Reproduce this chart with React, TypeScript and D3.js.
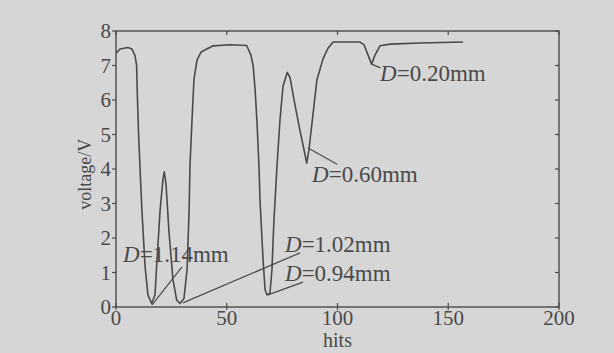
import React from "react";
import * as d3 from "d3";

const hits = [0.2, 1.8, 5.4, 7.2, 8.6, 9.3, 9.7, 10.2, 10.8, 11.7, 13.1, 14.4, 16.1, 17.6, 18.5, 19.9, 21.2, 21.8, 22.6, 23.9, 25.7, 27.4, 28.9, 30.7, 32.1, 33.0, 33.4, 34.3, 35.2, 36.6, 38.4, 43.8, 51.5, 59.0, 60.9, 61.9, 62.8, 63.7, 64.6, 65.0, 66.4, 67.3, 68.2, 69.5, 70.4, 71.3, 72.7, 74.0, 75.4, 77.3, 78.6, 80.8, 83.1, 84.9, 86.1, 87.1, 88.9, 90.7, 93.5, 95.7, 98.0, 103.4, 110.2, 112.0, 113.8, 115.4, 116.9, 119.2, 123.7, 137.2, 156.7];
const voltage = [7.36, 7.48, 7.52, 7.48, 7.28, 7.0, 6.0, 5.0, 4.1, 2.8, 1.2, 0.35, 0.1, 0.35, 1.35, 2.8, 3.7, 3.92, 3.55, 2.2, 0.8, 0.2, 0.1, 0.25, 1.1, 2.8, 4.1, 5.4, 6.6, 7.16, 7.39, 7.57, 7.6, 7.58, 7.3, 7.0, 6.3, 5.3, 4.0, 3.1, 1.36, 0.5, 0.35, 0.4, 1.07, 2.5, 4.1, 5.4, 6.4, 6.8, 6.64, 5.86, 5.1, 4.55, 4.17, 4.55, 5.57, 6.58, 7.2, 7.5, 7.68, 7.68, 7.68, 7.6, 7.3, 7.04, 7.3, 7.57, 7.62, 7.65, 7.68];

const xTicks = [0, 50, 100, 150, 200];
const yTicks = [0, 1, 2, 3, 4, 5, 6, 7, 8];

const annoLabels = ["0.20mm", "0.60mm", "1.14mm", "1.02mm", "0.94mm"];
const annoTextX = [119.2, 88.5, 3.2, 76.3, 76.3];
const annoTextY = [6.55, 3.62, 1.3, 1.59, 0.75];
const leadX1 = [115.4, 86.7, 16.3, 30.2, 68.6];
const leadY1 = [7.04, 4.61, 0.06, 0.12, 0.35];
const leadX2 = [119.4, 99.8, 29.8, 83.1, 84.4];
const leadY2 = [6.93, 4.14, 1.16, 1.57, 0.72];

const W = 614;
const H = 353;
const ink = "#4a4a4a";
const font = "'Liberation Serif', 'Times New Roman', serif";

export default function App() {
  const x = d3.scaleLinear().domain([0, 200]).range([116, 559]);
  const y = d3.scaleLinear().domain([0, 8]).range([307, 31]);
  const pts: [number, number][] = hits.map((h, i) => [h, voltage[i]]);
  const line = d3
    .line<[number, number]>()
    .x((d) => x(d[0]))
    .y((d) => y(d[1]))
    .curve(d3.curveLinear);
  const [x0, x1] = x.range();
  const [y0, y1] = y.range();
  return (
    <div style={{ position: "absolute", left: 0, top: 0 }}>
      <svg width={W} height={H} style={{ display: "block" }}>
        <rect x={0} y={0} width={W} height={H} fill="#d6d6d6" />
        {/* frame */}
        <rect x={x0} y={y1} width={x1 - x0} height={y0 - y1} fill="none" stroke={ink} strokeWidth={1.4} />
        {/* x ticks */}
        {xTicks.map((t) => (
          <g key={"xt" + t}>
            <line x1={x(t)} x2={x(t)} y1={y0 - 4} y2={y0 + 3} stroke={ink} strokeWidth={1.2} />
            <line x1={x(t)} x2={x(t)} y1={y1} y2={y1 + 4} stroke={ink} strokeWidth={1.2} />
            <text x={x(t)} y={y0 + 18} textAnchor="middle" fontFamily={font} fontSize={21} fill={ink}>
              {t}
            </text>
          </g>
        ))}
        {yTicks.map((t) => (
          <g key={"yt" + t}>
            <line x1={x0 - 4} x2={x0} y1={y(t)} y2={y(t)} stroke={ink} strokeWidth={1.2} />
            <line x1={x1 - 4} x2={x1} y1={y(t)} y2={y(t)} stroke={ink} strokeWidth={1.2} />
            <text x={x0 - 5} y={y(t)} dy="0.35em" textAnchor="end" fontFamily={font} fontSize={21} fill={ink}>
              {t}
            </text>
          </g>
        ))}
        <text x={x(100)} y={347} textAnchor="middle" fontFamily={font} fontSize={20} fill={ink}>
          hits
        </text>
        <text
          transform={`translate(91, ${y(3.85)}) rotate(-90)`}
          textAnchor="middle"
          fontFamily={font}
          fontSize={18}
          fill={ink}
        >
          voltage/V
        </text>
        {/* curve */}
        <path d={line(pts) || ""} fill="none" stroke={ink} strokeWidth={1.6} strokeLinejoin="round" />
        {/* annotations */}
        {annoLabels.map((lab, i) => (
          <g key={"a" + i}>
            <line
              x1={x(leadX1[i])}
              y1={y(leadY1[i])}
              x2={x(leadX2[i])}
              y2={y(leadY2[i])}
              stroke={ink}
              strokeWidth={1.2}
            />
            <text x={x(annoTextX[i])} y={y(annoTextY[i])} fontFamily={font} fontSize={23} fill={ink}>
              <tspan fontStyle="italic">D</tspan>
              <tspan>={lab}</tspan>
            </text>
          </g>
        ))}
      </svg>
    </div>
  );
}
